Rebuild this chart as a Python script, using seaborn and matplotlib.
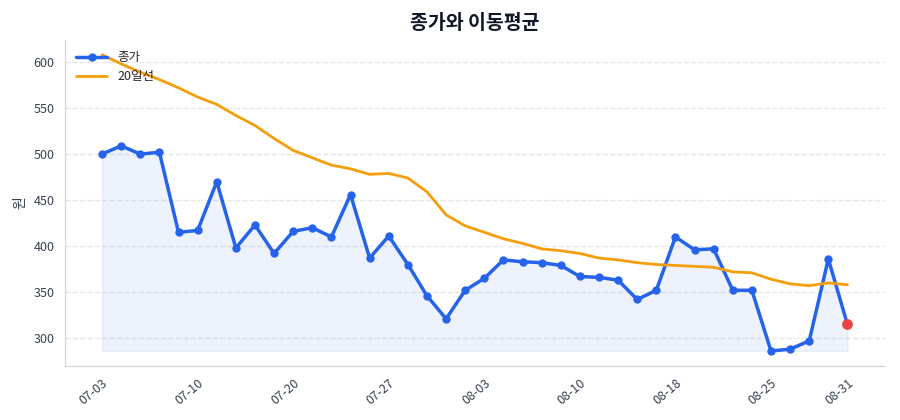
import numpy as np
import pandas as pd
import seaborn as sns
import matplotlib
matplotlib.use("Agg")
import matplotlib.pyplot as plt

# 데이터
dates = ['07-03', '07-04', '07-05', '07-06', '07-07',
         '07-10', '07-11', '07-12', '07-13', '07-14',
         '07-20', '07-21', '07-24', '07-25', '07-26',
         '07-27', '07-28', '07-31', '08-01', '08-02',
         '08-03', '08-04', '08-07', '08-08', '08-09',
         '08-10', '08-11', '08-14', '08-16', '08-17',
         '08-18', '08-21', '08-22', '08-23', '08-24',
         '08-25', '08-28', '08-29', '08-30', '08-31']
close = [500, 509, 500, 502, 415, 417, 470, 398, 423, 392,
         416, 420, 410, 456, 387, 411, 380, 346, 321, 352,
         365, 385, 383, 382, 379, 367, 366, 363, 342, 352,
         410, 396, 397, 352, 352, 286, 288, 297, 386, 315]
ma20 = [608, 598, 589, 581, 572, 562, 554, 542, 531, 517,
        504, 496, 488, 484, 478, 479, 474, 459, 434, 422,
        415, 408, 403, 397, 395, 392, 387, 385, 382, 380,
        379, 378, 377, 372, 371, 364, 359, 357, 360, 358]
tick_idx = [0, 5, 10, 15, 20, 25, 30, 35, 39]

df = pd.DataFrame({'idx': np.arange(len(dates)), 'date': dates,
                   'close': close, 'ma20': ma20})

sns.set_style("white")
plt.rcParams['font.family'] = ['Noto Sans CJK KR', 'DejaVu Sans']

blue = '#2563eb'
orange = '#f59e0b'

fig = plt.figure(figsize=(9, 4.2), dpi=100)
ax = fig.add_axes([0.072, 0.129, 0.911, 0.776])

ax.fill_between(df['idx'], df['close'], df['close'].min(),
                color=blue, alpha=0.08, linewidth=1)
sns.lineplot(data=df, x='idx', y='close', ax=ax, color=blue, lw=2.5,
             marker='o', markersize=6, markeredgewidth=0, label='종가')
sns.lineplot(data=df, x='idx', y='ma20', ax=ax, color=orange, lw=2,
             label='20일선')
ax.scatter(df['idx'].iloc[-1], df['close'].iloc[-1], s=60, color='#ef4444',
           zorder=5, linewidths=0)

ax.set_xticks(tick_idx)
ax.set_xticklabels([dates[i] for i in tick_idx], rotation=40, ha='right',
                   rotation_mode='anchor', color='#374151', fontsize=9)
ax.tick_params(axis='y', labelsize=9, labelcolor='#374151', length=4,
               color='#9ca3af')
ax.tick_params(axis='x', length=4, color='#9ca3af')
ax.set_xlabel('')
ax.set_ylabel('원', color='#374151', fontsize=10)
ax.set_title('종가와 이동평균', fontsize=14, fontweight='bold', pad=8,
             color='#111827')
ax.yaxis.grid(True, linestyle='--', color='#e5e7eb', lw=1)
ax.set_axisbelow(True)
sns.despine(ax=ax)
for s in ['left', 'bottom']:
    ax.spines[s].set_color('#d1d5db')
ax.legend(loc='upper left', frameon=False, fontsize=9,
          borderaxespad=0.5, handlelength=2.5)

fig.savefig('out.png', dpi=100)
